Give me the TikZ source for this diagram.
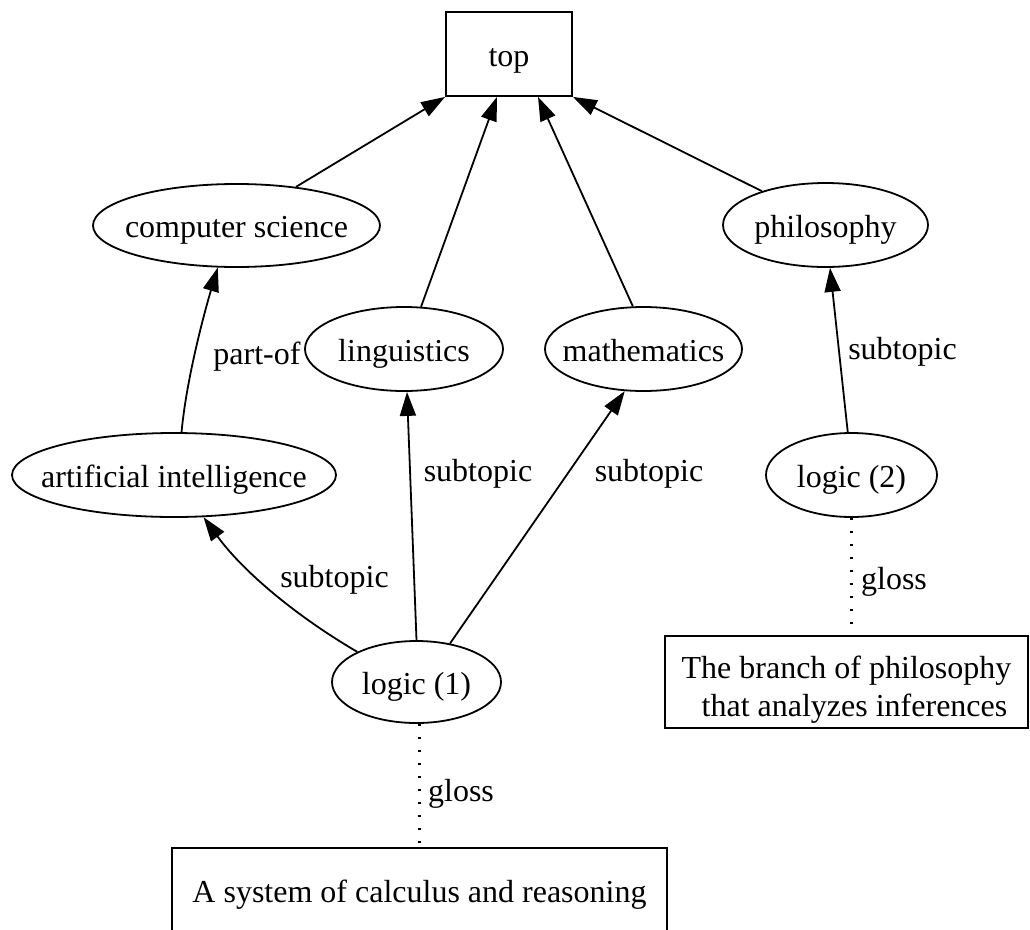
\documentclass[tikz,border=0pt]{standalone}
\usepackage{fontspec}
\setmainfont{Liberation Serif}
\usetikzlibrary{arrows.meta,calc,shapes.geometric}
% zero-width label so the ellipse keeps the size given to it
\newcommand{\zw}[1]{\makebox[0pt]{#1}}
\begin{document}
\begin{tikzpicture}[x=1pt,y=-1pt,
  every node/.style={font=\fontsize{32}{38}\selectfont, inner sep=0pt},
  topic/.style={draw, ellipse, line width=1.8pt, text height=30pt, text depth=6pt},
  box/.style={draw, rectangle, line width=1.8pt},
  rel/.style={line width=1.8pt, -{Triangle[length=24pt,width=16pt]}},
  glossline/.style={line width=2.4pt, dash pattern=on 2pt off 11pt}]
\useasboundingbox (0,0) rectangle (1030,929);

% concept nodes
\node[box, minimum width=126, minimum height=84, text height=30pt, text depth=6pt] (top) at (509,54) {top};
\node[topic, minimum width=287, minimum height=83] (cs) at (236.5,225.5) {\zw{computer science}};
\node[topic, minimum width=205, minimum height=84] (phil) at (825.5,225) {\zw{philosophy}};
\node[topic, minimum width=198, minimum height=84] (ling) at (404,349) {\zw{linguistics}};
\node[topic, minimum width=197, minimum height=84] (math) at (643.5,349) {\zw{mathematics}};
\node[topic, minimum width=324, minimum height=84] (ai) at (174,475) {\zw{artificial intelligence}};
\node[topic, minimum width=171, minimum height=84] (logic2) at (851.5,475) {\zw{logic (2)}};
\node[topic, minimum width=169, minimum height=82] (logic1) at (416.5,682) {\zw{logic (1)}};

% glosses
\node[box, minimum width=363, minimum height=92, align=center] (g2) at (846.5,682)
  {\rule{0pt}{37pt}The branch of philosophy\\\hspace*{16pt}that analyzes inferences};
\node[box, minimum width=495, minimum height=84, text height=30pt, text depth=6pt] (g1) at (419.5,890)
  {A system of calculus and reasoning};

% relations towards the root
\draw[rel] (cs.33) -- (top.south west);
\draw[rel] (ling.68) -- ($(top.south)+(-12,0)$);
\draw[rel] (math.104) -- ($(top.south)+(29,0)$);
\draw[rel] (phil.152) -- (top.south east);

% part-of and subtopic relations
\draw[rel] (ai.80) .. controls +(5,-55) and +(-12,40) .. (cs.246);
\node (lpart) at (257,357) {part-of};
\draw[rel] (logic1.153) .. controls +(-60,-35) and +(40,55) .. (ai.305);
\node (lsub1) at (334.5,580) {subtopic};
\draw[rel] (logic1.north) -- ($(ling.south)+(3,0)$);
\node (lsub2) at (478,474) {subtopic};
\draw[rel] (logic1.49) -- (math.246);
\node (lsub3) at (649,474) {subtopic};
\draw[rel] (logic2.95) -- (phil.-84);
\node (lsub4) at (902.5,352) {subtopic};

% gloss links
\draw[glossline] (g1.north |- logic1.south) -- (g1.north);
\node (lgloss1) at (461,794) {gloss};
\draw[glossline] (logic2.south) -- (logic2.south |- g2.north);
\node (lgloss2) at (894,582) {gloss};
\end{tikzpicture}
\end{document}
